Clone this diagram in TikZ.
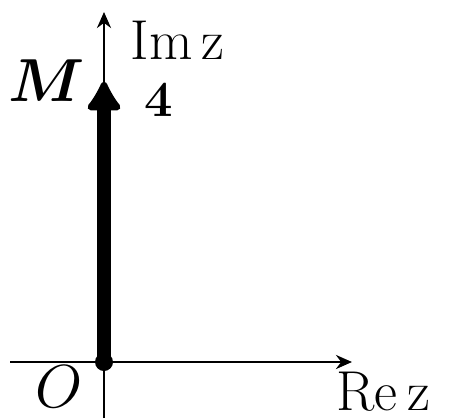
\documentclass[tikz,border=0pt]{standalone}
\usepackage{amsmath}
\usepackage{tikz}
\usetikzlibrary{arrows.meta, positioning}

\begin{document}
\begin{tikzpicture}[
  x=0.01cm, y=-0.01cm,
  axis/.style={line width=0.8pt, -{Stealth[length=0.16cm,width=0.14cm]}},
  vec/.style={line width=4pt, -{Latex[round, length=0.34cm,width=0.42cm]}},
  lbl/.style={font=\fontsize{16}{19}\selectfont, inner sep=0pt}
]
\useasboundingbox (0,0) rectangle (452,418);
\coordinate (O) at (104,362);
\coordinate (xleft) at (10,362);
\coordinate (xtip) at (352,362);
\coordinate (ybot) at (104,418);
\coordinate (ytip) at (104,12);
\coordinate (M) at (104,82);

\draw[axis] (xleft) -- (xtip);
\draw[axis] (ybot) -- (ytip);
\draw[vec] (O) -- (M);
\fill (O) circle (9);

\node[lbl, anchor=west] (im) at (130,40) {Im\,z};
\node[lbl, anchor=west] (re) at (336,392) {Re\,z};
\node[lbl] (mlbl) at (47,81) {$\boldsymbol{M}$};
\node[lbl, font=\Large] (four) at (159,100) {$\mathbf{4}$};
\node[lbl] (olbl) at (59,387) {$O$};
\end{tikzpicture}
\end{document}
